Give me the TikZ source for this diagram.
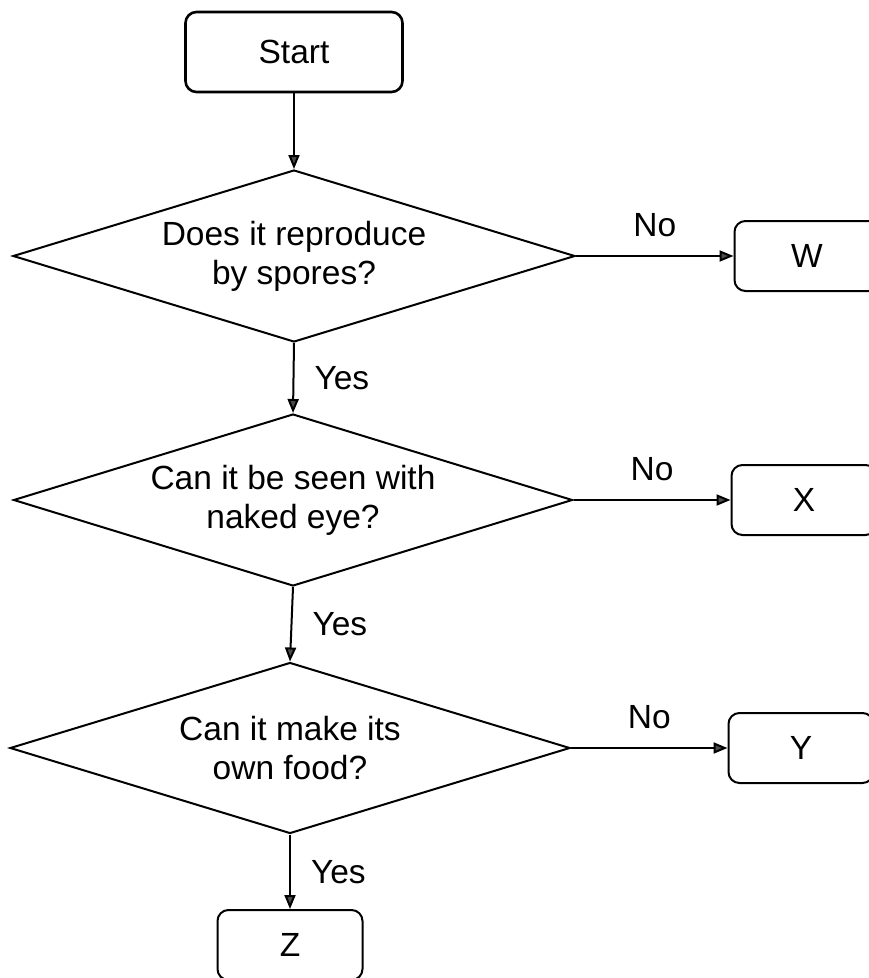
\documentclass[tikz,border=0pt]{standalone}
\usepackage{fontspec}
\setmainfont{Liberation Sans}
\usetikzlibrary{shapes.geometric,arrows.meta}
\begin{document}
\begin{tikzpicture}[x=1pt,y=-1pt,
  every node/.style={font=\fontsize{33.5}{39}\selectfont},
  termbox/.style={draw, line width=2pt, rounded corners=11pt, minimum width=145pt, minimum height=70pt, inner sep=0pt},
  decbox/.style={draw, line width=2pt, diamond, aspect=3.25, inner sep=0pt, align=center},
  flow/.style={line width=2pt, -{Triangle[length=14pt,width=11pt,fill=gray!60!black]}},
  lbl/.style={inner sep=3pt}
]
\useasboundingbox (0,0) rectangle (869,978);
\node[termbox, line width=2.6pt, minimum width=217pt, minimum height=80pt] (start) at (294,52) {Start};
\node[decbox, minimum width=562pt, minimum height=172pt] (d1) at (294,256) {Does it reproduce\\by spores?};
\node[decbox, minimum width=559pt, minimum height=172pt] (d2) at (293,500) {Can it be seen with\\naked eye?};
\node[decbox, minimum width=560pt, minimum height=171pt] (d3) at (290,748) {Can it make its\\own food?};
\node[termbox] (w) at (807,256) {W};
\node[termbox] (x) at (804,500) {X};
\node[termbox] (y) at (801,748) {Y};
\node[termbox] (z) at (290,945) {Z};
\draw[flow] (start.south) -- (d1.north);
\draw[flow] (d1.south) -- node[lbl, right, xshift=17pt] {Yes} (d2.north);
\draw[flow] (d2.south) -- node[lbl, right, xshift=17pt] {Yes} (d3.north);
\draw[flow] (d3.south) -- node[lbl, right, xshift=17pt] {Yes} (z.north);
\draw[flow] (d1.east) -- node[lbl, above, yshift=15pt] {No} (w.west);
\draw[flow] (d2.east) -- node[lbl, above, yshift=15pt] {No} (x.west);
\draw[flow] (d3.east) -- node[lbl, above, yshift=15pt] {No} (y.west);
\end{tikzpicture}
\end{document}
